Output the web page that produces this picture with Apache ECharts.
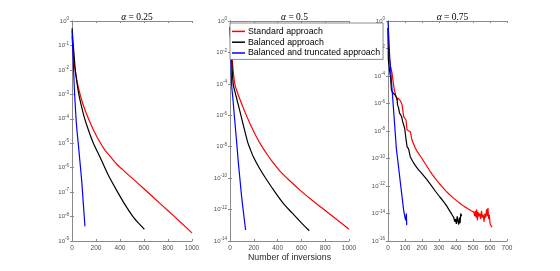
<!DOCTYPE html>
<html><head><meta charset="utf-8">
<script src="https://cdn.jsdelivr.net/npm/echarts@6/dist/echarts.min.js"></script>
<style>html,body{margin:0;padding:0;background:#fff}#c{width:560px;height:271px}</style>
</head><body><div id="c"></div><script>
// Series names
const seriesNames = ['Standard approach', 'Balanced approach', 'Balanced and truncated approach'];
const alphas = ['0.25', '0.5', '0.75'];

// Tick labels
const xTicks1 = [0, 200, 400, 600, 800, 1000];
const xTicks2 = [0, 200, 400, 600, 800, 1000];
const xTicks3 = [0, 100, 200, 300, 400, 500, 600, 700];
const yTickExp1 = [0, -1, -2, -3, -4, -5, -6, -7, -8, -9];
const yTickExp2 = [0, -2, -4, -6, -8, -10, -12, -14];
const yTickExp3 = [0, -2, -4, -6, -8, -10, -12, -14, -16];

// Data: [number of inversions, log10(error)]
const p1Standard = [[1,-0.6],[10,-1.35],[20,-1.8],[40,-2.42],[60,-2.86],[81,-3.24],[110,-3.66],[140,-4.03],[178,-4.45],[220,-4.85],[270,-5.25],[320,-5.55],[372,-5.85],[440,-6.16],[511,-6.47],[590,-6.82],[664,-7.15],[730,-7.45],[800,-7.76],[900,-8.21],[1000,-8.67]];
const p1Balanced = [[1,-0.3],[5,-0.6],[10,-0.95],[15,-1.25],[20,-1.55],[25,-1.87],[35,-2.3],[45,-2.65],[55,-2.95],[67,-3.24],[100,-3.9],[136,-4.45],[180,-5.02],[233,-5.56],[300,-6.28],[372,-6.93],[440,-7.5],[511,-8.02],[560,-8.3],[603,-8.52]];
const p1Truncated = [[1,-0.4],[10,-1.6],[20,-2.8],[30,-3.7],[40,-4.4],[53,-5.05],[67,-5.8],[81,-6.55],[94,-7.45],[108,-8.4]];

const p2Standard = [[1,-0.4],[10,-1.6],[25,-3.0],[42,-4.07],[84,-5.0],[126,-5.8],[175,-6.65],[224,-7.4],[265,-7.95],[308,-8.45],[360,-9.0],[420,-9.55],[500,-10.15],[588,-10.76],[700,-11.47],[800,-12.06],[868,-12.46],[1000,-13.25]];
const p2Balanced = [[1,-0.4],[10,-1.8],[20,-3.3],[28,-4.07],[50,-4.75],[84,-5.77],[115,-6.72],[149,-7.72],[170,-8.15],[196,-8.64],[250,-9.4],[308,-10.1],[380,-10.9],[448,-11.6],[520,-12.2],[600,-12.85],[666,-13.35]];
const p2Truncated = [[1,-0.4],[7,-2.0],[14,-4.07],[25,-5.0],[36,-6.0],[56,-7.72],[70,-9.0],[84,-10.1],[98,-11.2],[115,-12.3],[131,-13.3]];

const p3Standard = [[0,-0.5],[4,-2.0],[8,-2.8],[15,-3.3],[24,-3.8],[28,-4.2],[37,-5.0],[45,-5.4],[53,-5.75],[60,-5.6],[67,-5.55],[75,-5.85],[83,-6.1],[92,-6.96],[100,-7.1],[106,-7.2],[112,-7.93],[120,-8.0],[131,-8.05],[141,-8.65],[161,-9.26],[180,-9.65],[200,-10.0],[220,-10.4],[240,-10.78],[260,-11.15],[280,-11.48],[300,-11.8],[318,-12.05],[340,-12.35],[360,-12.6],[385,-12.88],[407,-13.1],[430,-13.33],[450,-13.5],[470,-13.66],[490,-13.8],[505,-13.9],[510,-14.2],[514,-13.8],[518,-14.3],[522,-13.7],[526,-14.5],[530,-13.9],[535,-14.2],[540,-14.0],[545,-14.4],[550,-13.8],[555,-14.3],[560,-14.1],[565,-14.6],[570,-14.0],[575,-14.3],[580,-13.7],[585,-14.2],[588,-13.6],[592,-14.4],[596,-14.1],[600,-14.7],[606,-14.9],[612,-15.0]];
const p3Balanced = [[0,-0.5],[2,-2.8],[8,-3.5],[15,-4.1],[20,-5.0],[27,-5.2],[35,-5.1],[43,-5.4],[53,-5.62],[56,-6.1],[62,-6.3],[68,-6.7],[74,-6.84],[80,-6.95],[86,-7.3],[92,-7.44],[98,-7.8],[104,-8.4],[112,-9.14],[121,-9.3],[131,-9.87],[145,-10.2],[160,-10.5],[180,-10.82],[200,-11.1],[230,-11.56],[255,-11.98],[280,-12.4],[305,-12.8],[328,-13.15],[345,-13.45],[360,-13.75],[375,-14.05],[387,-14.3],[392,-14.6],[397,-14.4],[402,-14.75],[407,-14.2],[412,-14.6],[416,-14.8],[420,-14.3],[424,-14.7],[428,-14.0],[433,-14.2]];
const p3Truncated = [[0,0],[10,-2.6],[24,-5.0],[36,-7.0],[49,-9.26],[62,-10.6],[75,-12.0],[92,-13.75],[100,-14.3],[104,-14.5],[108,-14.0],[110,-14.85]];

const panels = [
  {alpha: alphas[0], xTicks: xTicks1, yTicks: yTickExp1, data: [p1Standard, p1Balanced, p1Truncated], left: 72, width: 120, smooth: 0.25},
  {alpha: alphas[1], xTicks: xTicks2, yTicks: yTickExp2, data: [p2Standard, p2Balanced, p2Truncated], left: 230, width: 119, smooth: 0.25},
  {alpha: alphas[2], xTicks: xTicks3, yTicks: yTickExp3, data: [p3Standard, p3Balanced, p3Truncated], left: 388, width: 119, smooth: false}
];
const colors = ['#ff0000', '#000000', '#0000ff'];
const axisColor = '#8a8a8a';
const labelColor = '#4d4d4d';

const grid = [], xAxis = [], yAxis = [], series = [], title = [];
panels.forEach((p, i) => {
  grid.push({left: p.left, top: 21, width: p.width, height: 220});
  const xmin = p.xTicks[0], xmax = p.xTicks[p.xTicks.length - 1];
  const step = p.xTicks[1] - p.xTicks[0];
  const yVals = p.yTicks.map(e => Math.pow(10, e));
  const ymin = Math.min(...yVals), ymax = Math.max(...yVals);
  const xBase = {
    type: 'value', gridIndex: i, min: xmin, max: xmax, interval: step,
    axisLine: {show: true, lineStyle: {color: axisColor, width: 1}},
    axisTick: {show: true, inside: true, length: 2, lineStyle: {color: axisColor}},
    splitLine: {show: false}
  };
  xAxis.push(Object.assign({}, xBase, {
    position: 'bottom',
    axisLabel: {show: true, fontSize: 6.5, color: labelColor, margin: 4, fontFamily: 'Liberation Sans', formatter: v => String(v)},
    name: i === 1 ? 'Number of inversions' : '',
    nameLocation: 'middle', nameGap: 12, nameMoveOverlap: false,
    nameTextStyle: {fontSize: 8.8, color: '#262626', fontFamily: 'Liberation Sans', verticalAlign: 'top'}
  }));
  xAxis.push(Object.assign({}, xBase, {position: 'top', axisLabel: {show: false}}));
  const yBase = {
    type: 'log', logBase: 10, gridIndex: i, min: ymin, max: ymax,
    axisLine: {show: true, lineStyle: {color: axisColor, width: 1}},
    axisTick: {show: true, inside: true, length: 2, customValues: yVals, lineStyle: {color: axisColor}},
    splitLine: {show: false}
  };
  yAxis.push(Object.assign({}, yBase, {
    position: 'left',
    axisLabel: {
      show: true, customValues: yVals, margin: 3, color: labelColor,
      formatter: v => '{b|10}{s|' + Math.round(Math.log10(v)) + '}',
      rich: {
        b: {fontSize: 6, color: labelColor, fontFamily: 'Liberation Sans'},
        s: {fontSize: 4.5, color: labelColor, fontFamily: 'Liberation Sans', verticalAlign: 'top', padding: [0, 0, 4, 0]}
      }
    }
  }));
  yAxis.push(Object.assign({}, yBase, {position: 'right', axisLabel: {show: false}}));
  p.data.forEach((d, k) => {
    series.push({
      name: seriesNames[k], type: 'line', xAxisIndex: 2 * i, yAxisIndex: 2 * i,
      data: d.map(pt => [pt[0], Math.pow(10, pt[1])]),
      symbol: 'none', showSymbol: false, clip: true,
      smooth: p.smooth,
      lineStyle: {color: colors[k], width: 1.2}, itemStyle: {color: colors[k]},
      z: 3 + k
    });
  });
  title.push({
    text: '{a|α} = ' + p.alpha,
    left: p.left + p.width / 2, top: 7, textAlign: 'center',
    textStyle: {fontSize: 9.5, fontWeight: 'normal', color: '#000', fontFamily: 'Liberation Serif',
      rich: {a: {fontSize: 9.5, fontStyle: 'italic', fontFamily: 'Liberation Serif', color: '#000'}}}
  });
});

const chart = echarts.init(document.getElementById('c'), null, {renderer: 'canvas'});
chart.setOption({
  animation: false,
  backgroundColor: '#ffffff',
  title: title,
  grid: grid, xAxis: xAxis, yAxis: yAxis, series: series,
  legend: {
    data: seriesNames.map((n, k) => ({name: n, icon: 'rect', itemStyle: {color: colors[k]}})),
    orient: 'vertical', left: 230, top: 23,
    backgroundColor: '#ffffff', borderColor: '#6e6e6e', borderWidth: 0.8, borderRadius: 0,
    padding: [3, 3, 1, 2], itemGap: 0, itemWidth: 13, itemHeight: 1.5,
    textStyle: {fontSize: 8.8, lineHeight: 10.8, color: '#000', fontFamily: 'Liberation Sans', padding: [0, 0, 0, -2]},
    z: 10
  }
});
</script></body></html>
